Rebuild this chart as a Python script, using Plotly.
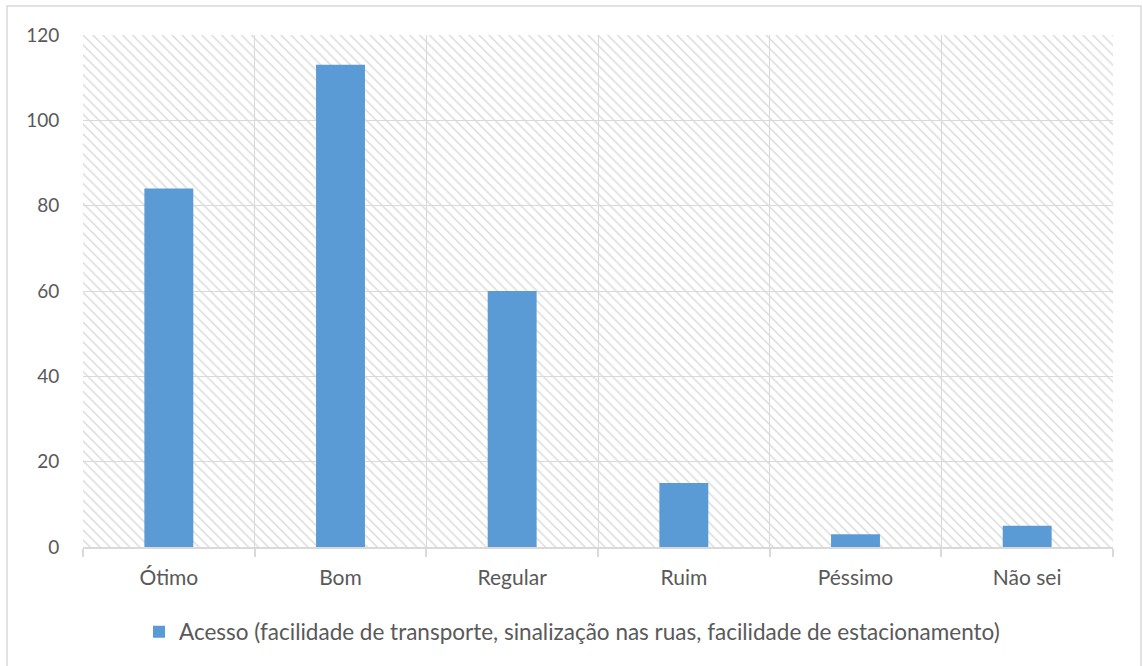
import plotly.graph_objects as go

# respostas da pesquisa
categorias = ["Ótimo", "Bom", "Regular", "Ruim", "Péssimo", "Não sei"]
respostas = [84, 113, 60, 15, 3, 5]
y_ticks = [0, 20, 40, 60, 80, 100, 120]
serie = "Acesso (facilidade de transporte, sinalização nas ruas, facilidade de estacionamento)"

y_max = y_ticks[-1]
cinza = "#d9d9d9"
texto = "#595959"
fonte = "Lato"

# plot area in pixels
W, H = 1143, 666
m_left, m_right, m_top, m_bottom = 83, 30, 35, 119
pw = W - m_left - m_right
ph = H - m_top - m_bottom

fig = go.Figure()

# hatched background of the plot area (excel style)
fig.add_trace(go.Bar(
    x=categorias,
    y=[y_max] * len(categorias),
    width=1,
    marker=dict(
        color="rgba(0,0,0,0)",
        line=dict(width=0),
        pattern=dict(shape="\\", size=7, solidity=0.2,
                     fgcolor=cinza, bgcolor="rgba(0,0,0,0)", fillmode="replace"),
    ),
    showlegend=False,
    hoverinfo="skip",
))

fig.add_trace(go.Bar(
    x=categorias,
    y=respostas,
    width=0.285,
    name=serie,
    marker=dict(color="#5b9bd5", line=dict(width=0)),
))

# outer chart border
fig.add_shape(
    type="rect", xref="paper", yref="paper",
    x0=(7 - m_left) / pw, x1=(1141 - m_left) / pw,
    y0=(ph + m_top - 672) / ph, y1=(ph + m_top - 6) / ph,
    line=dict(color=cinza, width=1.5), fillcolor="rgba(0,0,0,0)", layer="below",
)

fig.update_layout(
    width=W, height=H,
    margin=dict(l=m_left, r=m_right, t=m_top, b=m_bottom),
    barmode="overlay",
    paper_bgcolor="white",
    plot_bgcolor="white",
    font=dict(family=fonte, size=21, color=texto),
    legend=dict(
        orientation="h",
        x=(572 - m_left) / pw, xanchor="center",
        y=(ph + m_top - 632) / ph, yanchor="middle",
        font=dict(family=fonte, size=22.5, color=texto),
        itemwidth=30,
    ),
)

fig.update_xaxes(
    type="category",
    tickson="boundaries",
    showgrid=True, gridcolor=cinza, gridwidth=1,
    showline=True, linecolor=cinza, linewidth=1.5,
    ticks="outside", ticklen=8, tickcolor=cinza, tickwidth=1.5,
    ticklabelstandoff=11,
    tickfont=dict(family=fonte, size=21, color=texto),
)

fig.update_yaxes(
    range=[0, y_max],
    tickvals=y_ticks,
    showgrid=True, gridcolor=cinza, gridwidth=1,
    zeroline=False,
    ticks="outside", ticklen=19, tickcolor="rgba(0,0,0,0)",
    tickfont=dict(family=fonte, size=19, color=texto),
)

fig.write_html(
    "out.html",
    config={"displayModeBar": False},
    post_script="document.body.style.margin='0';document.body.style.overflow='hidden';",
)
